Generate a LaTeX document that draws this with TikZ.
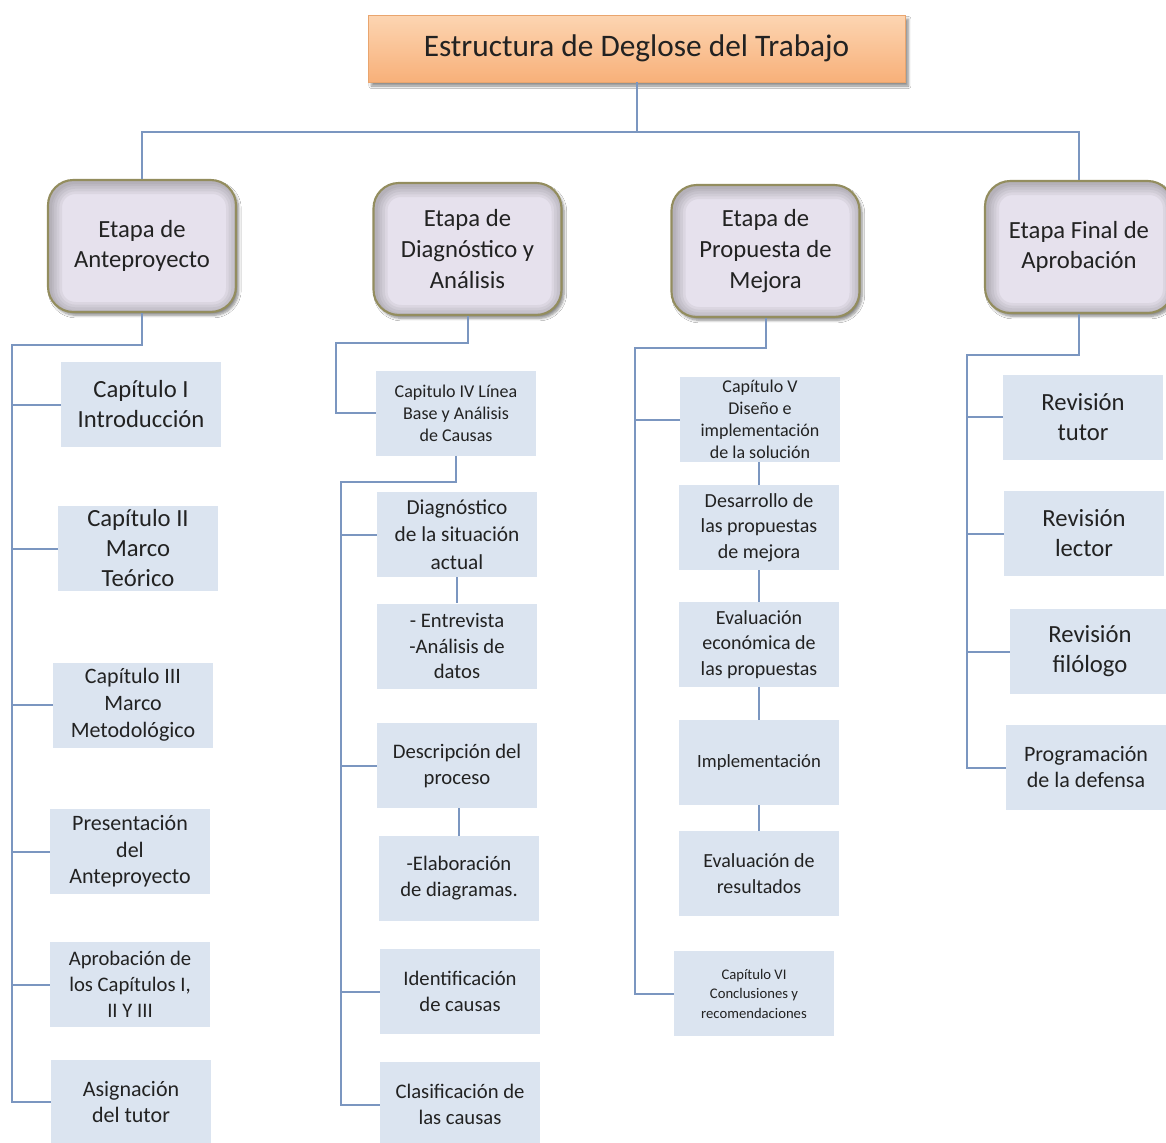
\documentclass[tikz,border=0pt]{standalone}
\usepackage{fontspec}
\setmainfont{Carlito}
\usetikzlibrary{shadows,shadows.blur}

\definecolor{linec}{HTML}{7B96C0}
\definecolor{leafc}{HTML}{DBE4F0}
\definecolor{stagec}{HTML}{E6E1ED}
\definecolor{stageb}{HTML}{938D5E}
\definecolor{txt}{HTML}{222222}
\definecolor{orangetop}{HTML}{FCD5B2}
\definecolor{orangebot}{HTML}{F8B079}
\definecolor{orangeb}{HTML}{E9A56E}

\newcommand\fsz[2]{\fontsize{#1}{#2}\selectfont}

\tikzset{
  link/.style={draw=linec, line width=1.5pt},
  leaf/.style={fill=leafc, text=txt, align=center, inner sep=0pt,
    minimum width=120pt, minimum height=63.75pt},
  stage/.style={rounded corners=19pt, fill=stagec, draw=stageb, line width=1.6pt,
    text=txt, align=center, inner sep=0pt,
    minimum width=141pt, minimum height=99pt,
    blur shadow={shadow xshift=2pt, shadow yshift=-2.5pt, shadow opacity=45, shadow blur steps=6},
    font=\fsz{18.5pt}{23pt},
    path picture={
      \foreach \w in {18,14,10,6,3}{
        \draw[rounded corners=19pt, draw=black!70, opacity=0.07, line width=\w pt]
          ([xshift=1.5pt,yshift=-1.5pt]path picture bounding box.south west)
          rectangle ([xshift=1.5pt,yshift=-1.5pt]path picture bounding box.north east);
      }
    }},
  headbox/.style={top color=orangetop, bottom color=orangebot, draw=orangeb, line width=0.6pt,
    text=txt, inner sep=0pt, minimum width=402.75pt, minimum height=50.25pt,
    blur shadow={shadow xshift=2.5pt, shadow yshift=-3pt, shadow opacity=45, shadow blur steps=6},
    font=\fsz{23.5pt}{28pt}}
}

\begin{document}
\begin{tikzpicture}[x=0.75pt,y=-0.75pt]
\fill[white] (0,0) rectangle (1166,1142);
\useasboundingbox (0,0) rectangle (1166,1142);

% title
\node[headbox] (T) at (636.5,48.5) {Estructura de Deglose del Trabajo};

% stages
\node[stage] (s1) at (142,246)   {Etapa de\\Anteproyecto};
\node[stage] (s2) at (467.5,249) {Etapa de\\Diagnóstico y\\Análisis};
\node[stage] (s3) at (765.5,251) {Etapa de\\Propuesta de\\Mejora};
\node[stage] (s4) at (1079,247)  {Etapa Final de\\Aprobación};

% column 1
\node[leaf, font=\fsz{18.5pt}{22.5pt}] (a1) at (141,404.5) {Capítulo I\\Introducción};
\node[leaf, font=\fsz{18.5pt}{22.5pt}] (a2) at (138,548.5) {Capítulo II\\Marco\\Teórico};
\node[leaf, font=\fsz{16.5pt}{20.2pt}] (a3) at (133,705)   {Capítulo III\\Marco\\Metodológico};
\node[leaf, font=\fsz{16.5pt}{20pt}]   (a4) at (130,851.5) {Presentación\\del\\Anteproyecto};
\node[leaf, font=\fsz{15.5pt}{19.5pt}] (a5) at (130,984.5) {Aprobación de\\los Capítulos I,\\II Y III};
\node[leaf, font=\fsz{16.5pt}{20.2pt}] (a6) at (131,1102)  {Asignación\\del tutor};

% column 2
\node[leaf, font=\fsz{13.5pt}{16.5pt}] (b0) at (456,413)    {Capitulo IV Línea\\Base y Análisis\\de Causas};
\node[leaf, font=\fsz{16pt}{20.5pt}]   (b1) at (457,534.5)  {Diagnóstico\\de la situación\\actual};
\node[leaf, font=\fsz{15.5pt}{19pt}]   (b2) at (457,646)    {- Entrevista\\-Análisis de\\datos};
\node[leaf, font=\fsz{15.5pt}{19.5pt}] (b3) at (457,765.5)  {Descripción del\\proceso};
\node[leaf, font=\fsz{15.5pt}{19.5pt}] (b4) at (459,878.5)  {-Elaboración\\de diagramas.};
\node[leaf, font=\fsz{15.5pt}{19.5pt}] (b5) at (460,991.5)  {Identificación\\de causas};
\node[leaf, font=\fsz{15.5pt}{19.5pt}] (b6) at (460,1104.5) {Clasificación de\\las causas};

% column 3
\node[leaf, font=\fsz{13.5pt}{16.5pt}] (c1) at (760,419.5) {Capítulo V\\Diseño e\\implementación\\de la solución};
\node[leaf, font=\fsz{15pt}{19pt}]     (c2) at (759,527.5) {Desarrollo de\\las propuestas\\de mejora};
\node[leaf, font=\fsz{15pt}{19pt}]     (c3) at (759,644.5) {Evaluación\\económica de\\las propuestas};
\node[leaf, font=\fsz{14pt}{17pt}]     (c4) at (759,762.5) {Implementación};
\node[leaf, font=\fsz{15pt}{19.5pt}]   (c5) at (759,873.5) {Evaluación de\\resultados};
\node[leaf, font=\fsz{11pt}{14.6pt}]   (c6) at (754,993.5) {Capítulo VI\\Conclusiones y\\recomendaciones};

% column 4
\node[leaf, font=\fsz{18.5pt}{22.5pt}] (d1) at (1083,417)   {Revisión\\tutor};
\node[leaf, font=\fsz{18.5pt}{22.5pt}] (d2) at (1084,533.5) {Revisión\\lector};
\node[leaf, font=\fsz{18.5pt}{22.5pt}] (d3) at (1090,651.5) {Revisión\\filólogo};
\node[leaf, font=\fsz{16.5pt}{19.5pt}] (d4) at (1086,767.5) {Programación\\de la defensa};

% title to the outer stages
\coordinate (bus) at (636.5,132);
\draw[link] (T.south) -- (bus);
\draw[link] (s1.north) |- (bus) -| (s4.north);

% column 1 connectors
\coordinate (k1) at (12,345);
\draw[link] (s1.south) |- (k1) |- (a6.west);
\foreach \n in {a1,a2,a3,a4,a5}
  \draw[link] (\n.west -| k1) -- (\n.west);

% column 2 connectors
\coordinate (k2) at (336,343);
\draw[link] (s2.south) |- (k2) |- (b0.west);
\coordinate (k3) at (341,482);
\draw[link] (b0.south) |- (k3) |- (b6.west);
\foreach \n in {b1,b3,b5}
  \draw[link] (\n.west -| k3) -- (\n.west);
\draw[link] (b1.south) -- (b2.north);
\draw[link] (b4.north |- b3.south) -- (b4.north);

% column 3 connectors
\coordinate (k4) at (635,348);
\draw[link] (s3.south) |- (k4) |- (c6.west);
\draw[link] (c1.west -| k4) -- (c1.west);
\draw[link] (c2.north |- c1.south) -- (c2.north);
\draw[link] (c2.south) -- (c3.north);
\draw[link] (c3.south) -- (c4.north);
\draw[link] (c4.south) -- (c5.north);

% column 4 connectors
\coordinate (k5) at (967,355);
\draw[link] (s4.south) |- (k5) |- (d4.west);
\foreach \n in {d1,d2,d3}
  \draw[link] (\n.west -| k5) -- (\n.west);
\end{tikzpicture}
\end{document}
